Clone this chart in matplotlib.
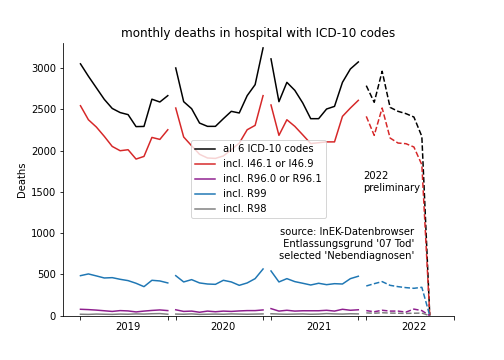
import matplotlib
matplotlib.use("Agg")
import matplotlib.pyplot as plt
import numpy as np

years = ["2019", "2020", "2021", "2022"]

# monthly values per year; 2022 is preliminary (ends with September = 0)
all_codes = [
    [3050, 2900, 2760, 2620, 2510, 2460, 2435, 2290, 2292, 2622, 2588, 2665],
    [3000, 2592, 2507, 2333, 2293, 2293, 2386, 2475, 2455, 2665, 2798, 3243],
    [3110, 2592, 2826, 2729, 2576, 2386, 2386, 2503, 2535, 2826, 2988, 3073],
    [2786, 2584, 2960, 2523, 2475, 2447, 2406, 2171, 0],
]
i46 = [
    [2543, 2373, 2285, 2172, 2050, 1998, 2010, 1897, 1929, 2159, 2135, 2252],
    [2515, 2164, 2058, 1955, 1910, 1905, 1935, 2010, 2090, 2252, 2305, 2665],
    [2552, 2184, 2373, 2293, 2190, 2085, 2095, 2105, 2105, 2414, 2515, 2608],
    [2414, 2184, 2515, 2152, 2091, 2083, 2043, 1828, 0],
]
r96 = [
    [78, 74, 68, 60, 52, 62, 58, 46, 56, 64, 70, 62],
    [72, 52, 56, 42, 56, 48, 56, 52, 58, 62, 62, 70],
    [86, 56, 66, 56, 60, 60, 60, 66, 56, 78, 66, 72],
    [62, 48, 66, 56, 56, 44, 80, 62, 0],
]
r99 = [
    [485, 506, 482, 457, 461, 441, 425, 393, 352, 429, 421, 397],
    [485, 409, 437, 397, 384, 380, 429, 409, 368, 397, 449, 566],
    [542, 409, 449, 413, 393, 372, 393, 376, 388, 384, 449, 478],
    [360, 388, 413, 368, 352, 340, 332, 344, 0],
]
r98 = [
    [18, 16, 20, 18, 16, 20, 18, 22, 20, 24, 26, 18],
    [20, 18, 22, 16, 18, 20, 18, 22, 20, 18, 20, 22],
    [24, 20, 18, 20, 22, 18, 20, 26, 22, 20, 24, 22],
    [34, 30, 36, 32, 30, 28, 30, 32, 0],
]

series = [
    ("all 6 ICD-10 codes", all_codes, "black"),
    ("incl. I46.1 or I46.9", i46, "#d62728"),
    ("incl. R96.0 or R96.1", r96, "#8e1f8e"),
    ("incl. R99", r99, "#1f77b4"),
    ("incl. R98", r98, "grey"),
]

fig, ax = plt.subplots(figsize=(7, 5), dpi=72)
fig.subplots_adjust(left=0.125, right=0.9, bottom=0.123, top=0.88)

for label, data, color in series:
    for k, vals in enumerate(data):
        x = 12 * k + np.arange(len(vals))
        ls = "--" if years[k] == "2022" else "-"
        ax.plot(x, vals, color=color, ls=ls, lw=1.5,
                label=label if k == 0 else None)

ax.set_ylim(0, 3300)
major = []
for k in range(len(years)):
    major += [12 * k, 12 * k + 11]
ax.set_xticks(major)
ax.set_xticklabels([""] * len(major))
ax.set_xticks([12 * k + 6 for k in range(len(years))], minor=True)
ax.set_xticklabels(years, minor=True)
ax.tick_params(axis="x", which="minor", length=0, pad=6.5)

ax.spines["top"].set_visible(False)
ax.spines["right"].set_visible(False)

ax.set_ylabel("Deaths")
ax.set_title("monthly deaths in hospital with ICD-10 codes")
ax.legend(loc="center")

ax.text(35.6, 1490, "2022\npreliminary", ha="left", va="bottom")
ax.text(42.1, 1070, "source: InEK-Datenbrowser\n Entlassungsgrund '07 Tod'\nselected 'Nebendiagnosen'",
        ha="right", va="top", multialignment="center")

fig.savefig("out.png", dpi=72)
